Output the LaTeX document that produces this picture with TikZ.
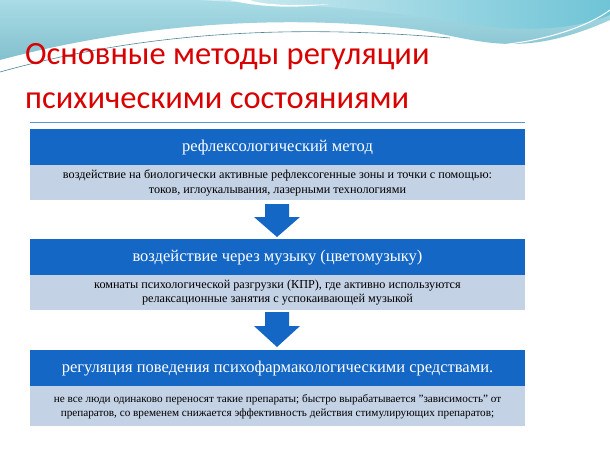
\documentclass[tikz,border=0pt]{standalone}
\usepackage{fontspec}
\setmainfont{Liberation Serif}
\newfontfamily\titlefont{Carlito}
\begin{document}
\begin{tikzpicture}[x=1pt,y=-1pt,
  head/.style={fill=hdblue,draw=none,minimum width=495pt,minimum height=36pt,text=white,font=\fontsize{16.5}{19}\selectfont,anchor=north},
  sub/.style={fill=subblue,draw=none,minimum width=495pt,minimum height=35pt,align=center,font=\fontsize{12.2}{14.5}\selectfont,anchor=north,text=black,inner sep=1pt},
  downarrow/.style={fill=hdblue,draw=none}]
\definecolor{hdblue}{HTML}{1467C4}
\definecolor{subblue}{HTML}{C4D2E6}
\definecolor{wave}{HTML}{6FC4D6}
\useasboundingbox (0,0) rectangle (610,456);
\fill[white] (0,0) rectangle (610,456);
% waves
\shade[top color=wave!60!white,bottom color=wave!90!black!80] (0,0) -- (610,0) -- (610,20) .. controls (520,60) and (480,40) .. (420,30) .. controls (300,15) and (150,20) .. (0,60) -- cycle;
\shade[left color=wave!30!white,right color=wave] (200,0) -- (610,0) -- (610,15) .. controls (560,35) and (500,30) .. (440,20) .. controls (350,5) and (280,5) .. (200,0) -- cycle;
\fill[white] (230,0) .. controls (260,8) and (300,8) .. (330,4) .. controls (300,6) and (260,5) .. (250,0) -- cycle;
\draw[wave!70!black,line width=0.6pt] (0,72) .. controls (150,30) and (300,25) .. (450,38);
\draw[white,line width=1pt] (500,45) .. controls (550,40) and (590,25) .. (610,10);
% title
\node[anchor=west,text=red!85!black,font=\titlefont\fontsize{32.5}{36}\selectfont,inner sep=0pt] (t1) at (25,57) {Основные методы регуляции};
\node[anchor=west,text=red!85!black,font=\titlefont\fontsize{32.5}{36}\selectfont,inner sep=0pt] (t2) at (25,101) {психическими состояниями};
\draw[cyan!60!blue!70,line width=0.8pt] (30,122) -- (525,122);
% boxes
\node[head] (h1) at (277.5,129) {рефлексологический метод};
\node[sub] (s1) at (277.5,165) {воздействие на биологически активные рефлексогенные зоны и точки с помощью:\\токов, иглоукалывания, лазерными технологиями};
\node[head] (h2) at (277.5,239) {воздействие через музыку (цветомузыку)};
\node[sub] (s2) at (277.5,275) {комнаты психологической разгрузки (КПР), где активно используются\\релаксационные занятия с успокаивающей музыкой};
\node[head] (h3) at (277.5,350) {регуляция поведения психофармакологическими средствами.};
\node[sub,minimum height=40pt,font=\fontsize{11.2}{14}\selectfont] (s3) at (277.5,386) {не все люди одинаково переносят такие препараты; быстро вырабатывается "зависимость" от\\препаратов, со временем снижается эффективность действия стимулирующих препаратов;};
% arrows
\fill[downarrow] (277,204) ++(-12,0) -- ++(24,0) -- ++(0,13) -- ++(11,0) -- (277,237) -- (254,217) -- ++(11,0) -- cycle;
\fill[downarrow] (277,312) ++(-12,0) -- ++(24,0) -- ++(0,14) -- ++(11,0) -- (277,347) -- (254,326) -- ++(11,0) -- cycle;
\end{tikzpicture}
\end{document}
